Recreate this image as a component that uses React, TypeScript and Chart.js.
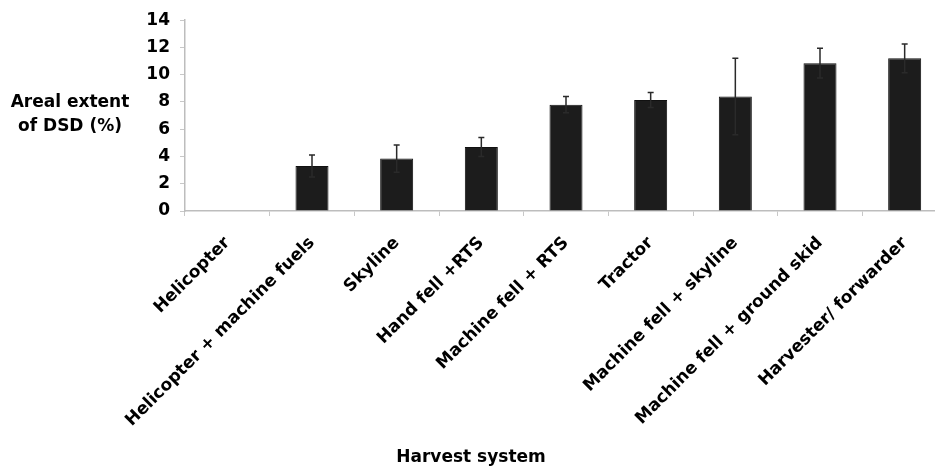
import React, { useEffect, useRef } from "react";
import { Chart, registerables } from "chart.js";

Chart.register(...registerables);

const categories = [
  "Helicopter",
  "Helicopter + machine fuels",
  "Skyline",
  "Hand fell +RTS",
  "Machine fell + RTS",
  "Tractor",
  "Machine fell + skyline",
  "Machine fell + ground skid",
  "Harvester/ forwarder",
];
const values = [0, 3.3, 3.85, 4.7, 7.8, 8.15, 8.4, 10.85, 11.2];
const errors = [0, 0.8, 1.0, 0.7, 0.6, 0.55, 2.8, 1.1, 1.05];
const yTitleLines = ["Areal extent", "of DSD (%)"];
const xTitle = "Harvest system";

const FONT = "'DejaVu Sans', sans-serif";

const errorBarPlugin = {
  id: "errorBars",
  afterDatasetsDraw(chart: any) {
    const meta = chart.getDatasetMeta(0);
    const y = chart.scales.y;
    const ctx = chart.ctx;
    ctx.save();
    ctx.strokeStyle = "#2a2a2a";
    ctx.lineWidth = 1.5;
    meta.data.forEach((bar: any, i: number) => {
      const e = errors[i];
      if (!e) return;
      const v = values[i];
      const x = bar.x;
      const top = y.getPixelForValue(v + e);
      const bot = y.getPixelForValue(v - e);
      ctx.beginPath();
      ctx.moveTo(x, top);
      ctx.lineTo(x, bot);
      ctx.moveTo(x - 3, top);
      ctx.lineTo(x + 3, top);
      ctx.moveTo(x - 3, bot);
      ctx.lineTo(x + 3, bot);
      ctx.stroke();
    });
    ctx.restore();
  },
};

const titlesPlugin = {
  id: "customTitles",
  afterDraw(chart: any) {
    const ctx = chart.ctx;
    ctx.save();
    ctx.fillStyle = "#000";
    ctx.font = `bold 17px ${FONT}`;
    ctx.textAlign = "center";
    ctx.textBaseline = "middle";
    ctx.fillText(yTitleLines[0], 70, 103);
    ctx.fillText(yTitleLines[1], 70, 127);
    ctx.fillText(xTitle, 471, 458);
    ctx.restore();
  },
};

export default function App() {
  const ref = useRef<HTMLCanvasElement>(null);
  useEffect(() => {
    if (!ref.current) return;
    const chart = new Chart(ref.current, {
      type: "bar",
      data: {
        labels: categories,
        datasets: [
          {
            data: values,
            backgroundColor: "#1c1c1c",
            borderColor: "#111",
            borderWidth: 1,
            categoryPercentage: 1,
            barPercentage: 0.39,
          },
        ],
      },
      options: {
        responsive: false,
        animation: false,
        layout: { padding: { top: 19, left: 0, right: 0, bottom: 0 } },
        plugins: { legend: { display: false }, tooltip: { enabled: false } },
        scales: {
          x: {
            grid: {
              display: true,
              drawOnChartArea: false,
              drawTicks: true,
              tickLength: 5,
              color: "#c8c8c8",
              offset: true,
            },
            border: { display: true, color: "#bdbdbd", width: 1.5 },
            ticks: {
              autoSkip: false,
              minRotation: 45,
              maxRotation: 45,
              color: "#000",
              padding: 17,
              font: { family: FONT, size: 17, weight: "bold" },
            },
            afterFit(scale: any) {
              scale.height = 261;
            },
          },
          y: {
            min: 0,
            max: 14,
            ticks: {
              stepSize: 2,
              color: "#000",
              padding: 10,
              font: { family: FONT, size: 17, weight: "bold" },
            },
            grid: {
              display: true,
              drawOnChartArea: false,
              drawTicks: true,
              tickLength: 5,
              color: "#c8c8c8",
            },
            border: { display: true, color: "#bdbdbd", width: 1.5 },
            afterFit(scale: any) {
              scale.width = 185;
            },
          },
        },
      },
      plugins: [errorBarPlugin, titlesPlugin],
    });
    return () => chart.destroy();
  }, []);
  return (
    <div
      style={{
        position: "absolute",
        left: 0,
        top: 0,
        width: 935,
        height: 472,
        overflow: "hidden",
        background: "#fff",
      }}
    >
      <canvas ref={ref} width={947} height={472} style={{ display: "block" }} />
    </div>
  );
}
